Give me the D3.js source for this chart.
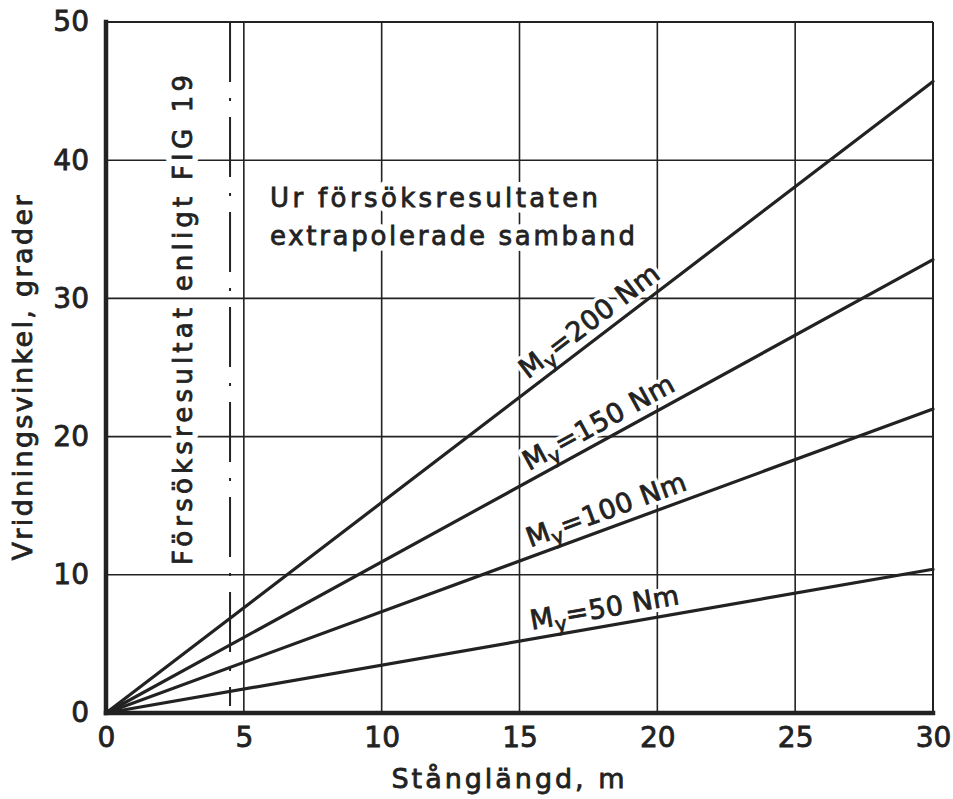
<!DOCTYPE html>
<html>
<head>
<meta charset="utf-8">
<script src="https://cdn.jsdelivr.net/npm/d3@7"></script>
<style>
  body { margin: 0; background: #fff; }
  svg { display: block; }
  text { font-family: "DejaVu Sans", sans-serif; fill: #222; }
  text.ink { stroke: #222; stroke-width: 0.8px; }
</style>
</head>
<body>
<svg id="chart" width="953" height="799"></svg>
<script>
// Axis ticks
const xTicks = [0, 5, 10, 15, 20, 25, 30];
const yTicks = [0, 10, 20, 30, 40, 50];

// Torsion moment per line (Nm) and twist angle (degrees) at 30 m bar length
const moments = [50, 100, 150, 200];
const barLength = [0, 30];
const angleAtEnd = [10.4, 22.0, 32.8, 45.7];

// Upper limit of the tested bar lengths (m)
const testLimit = [4.5];

// Texts
const xTitle = "Stånglängd, m";
const yTitle = "Vridningsvinkel, grader";
const testNote = "Försöksresultat  enligt  FIG 19";
const extrapNote = ["Ur försöksresultaten", "extrapolerade samband"];

const ink = "#222";
const svg = d3.select("#chart");

const x = d3.scaleLinear().domain([0, 30]).range([106, 933]);
const y = d3.scaleLinear().domain([0, 50]).range([713, 22]);

// Grid
const grid = svg.append("g").attr("stroke", ink).attr("stroke-width", 1.6);
grid.selectAll(".vg").data(xTicks.slice(1, -1)).join("line")
  .attr("x1", d => x(d)).attr("x2", d => x(d))
  .attr("y1", y(0)).attr("y2", y(50));
grid.selectAll(".hg").data(yTicks.slice(1, -1)).join("line")
  .attr("y1", d => y(d)).attr("y2", d => y(d))
  .attr("x1", x(0)).attr("x2", x(30));

// Dash-dot boundary of the test range
svg.selectAll(".limit").data(testLimit).join("line")
  .attr("x1", d => x(d)).attr("x2", d => x(d))
  .attr("y1", y(50)).attr("y2", y(0.5))
  .attr("stroke", ink).attr("stroke-width", 2)
  .attr("stroke-dasharray", "60,16,3,16");

// Frame
svg.append("line").attr("x1", x(0)).attr("x2", x(30)).attr("y1", y(50)).attr("y2", y(50))
  .attr("stroke", ink).attr("stroke-width", 2);
svg.append("line").attr("x1", x(30)).attr("x2", x(30)).attr("y1", y(50)).attr("y2", y(0))
  .attr("stroke", ink).attr("stroke-width", 2);

// Text placed over the grid: a white knock-out copy underneath, then the ink copy
function haloText(build, w) {
  const bg = build(svg.append("text"));
  bg.attr("fill", "#fff").attr("stroke", "#fff").attr("stroke-width", w)
    .attr("stroke-linejoin", "round");
  bg.selectAll("tspan").attr("fill", "#fff");
  return build(svg.append("text").attr("class", "ink"));
}
function fitLength(sel, len) {
  return sel.attr("textLength", len).attr("lengthAdjust", "spacing");
}

// Vertical note inside test range
haloText(t => fitLength(t
  .attr("transform", `translate(192,320) rotate(-90)`)
  .attr("text-anchor", "middle")
  .attr("font-size", 26)
  .text(testNote), 490), 12);

// Extrapolation note
extrapNote.forEach((s, i) => {
  haloText(t => fitLength(t
    .attr("x", 270).attr("y", 207 + i * 38)
    .attr("font-size", 26)
    .text(s), i === 0 ? 328 : 365), 12);
});

// Line labels, written along each line
const labelAt = 15.5;
const pts = moments.map((m, i) => ({ m, v: angleAtEnd[i] }));
pts.forEach(p => {
  const ang = Math.atan2(y(p.v) - y(0), x(barLength[1]) - x(barLength[0]));
  const px = x(labelAt), py = y(p.v * labelAt / barLength[1]);
  const off = 9;
  const tx = px + Math.sin(ang) * off, ty = py - Math.cos(ang) * off;
  haloText(t => {
    t.attr("transform", `translate(${tx},${ty}) rotate(${ang * 180 / Math.PI})`)
      .attr("font-size", 27)
      .attr("letter-spacing", 0.5);
    t.append("tspan").text("M");
    t.append("tspan").attr("dy", 6).attr("font-size", 20).text("y");
    t.append("tspan").attr("dy", -6).text(`=${p.m} Nm`);
    return t;
  }, 8);
});

// Data lines
const line = d3.line().x(d => x(d[0])).y(d => y(d[1]));
svg.selectAll(".series").data(pts).join("path")
  .attr("d", p => line(barLength.map(L => [L, p.v * L / barLength[1]])))
  .attr("fill", "none").attr("stroke", ink).attr("stroke-width", 3.2)
  .attr("stroke-linecap", "round");

// Left and bottom axes (heavy lines)
svg.append("line").attr("x1", x(0)).attr("x2", x(0)).attr("y1", y(50)).attr("y2", y(0))
  .attr("stroke", ink).attr("stroke-width", 4.5).attr("stroke-linecap", "square");
svg.append("line").attr("x1", x(0)).attr("x2", x(30)).attr("y1", y(0)).attr("y2", y(0))
  .attr("stroke", ink).attr("stroke-width", 4.5).attr("stroke-linecap", "square");

// Tick labels
const xAxis = svg.append("g").attr("transform", `translate(0,${y(0)})`)
  .call(d3.axisBottom(x).tickValues(xTicks).tickSize(0).tickPadding(14).tickFormat(d3.format("d")));
xAxis.select(".domain").remove();
xAxis.selectAll("text").attr("class", "ink").attr("font-size", 28).attr("font-family", null).attr("fill", ink);

const yAxis = svg.append("g").attr("transform", `translate(${x(0)},0)`)
  .call(d3.axisLeft(y).tickValues(yTicks).tickSize(0).tickPadding(17).tickFormat(d3.format("d")));
yAxis.select(".domain").remove();
yAxis.selectAll("text").attr("class", "ink").attr("font-size", 28).attr("font-family", null).attr("fill", ink);

// Axis titles
fitLength(svg.append("text").attr("class", "ink").attr("x", 508).attr("y", 788)
  .attr("text-anchor", "middle").attr("font-size", 27).text(xTitle), 233);
fitLength(svg.append("text").attr("class", "ink").attr("transform", "translate(32,378) rotate(-90)")
  .attr("text-anchor", "middle").attr("font-size", 27).text(yTitle), 365);
</script>
</body>
</html>
